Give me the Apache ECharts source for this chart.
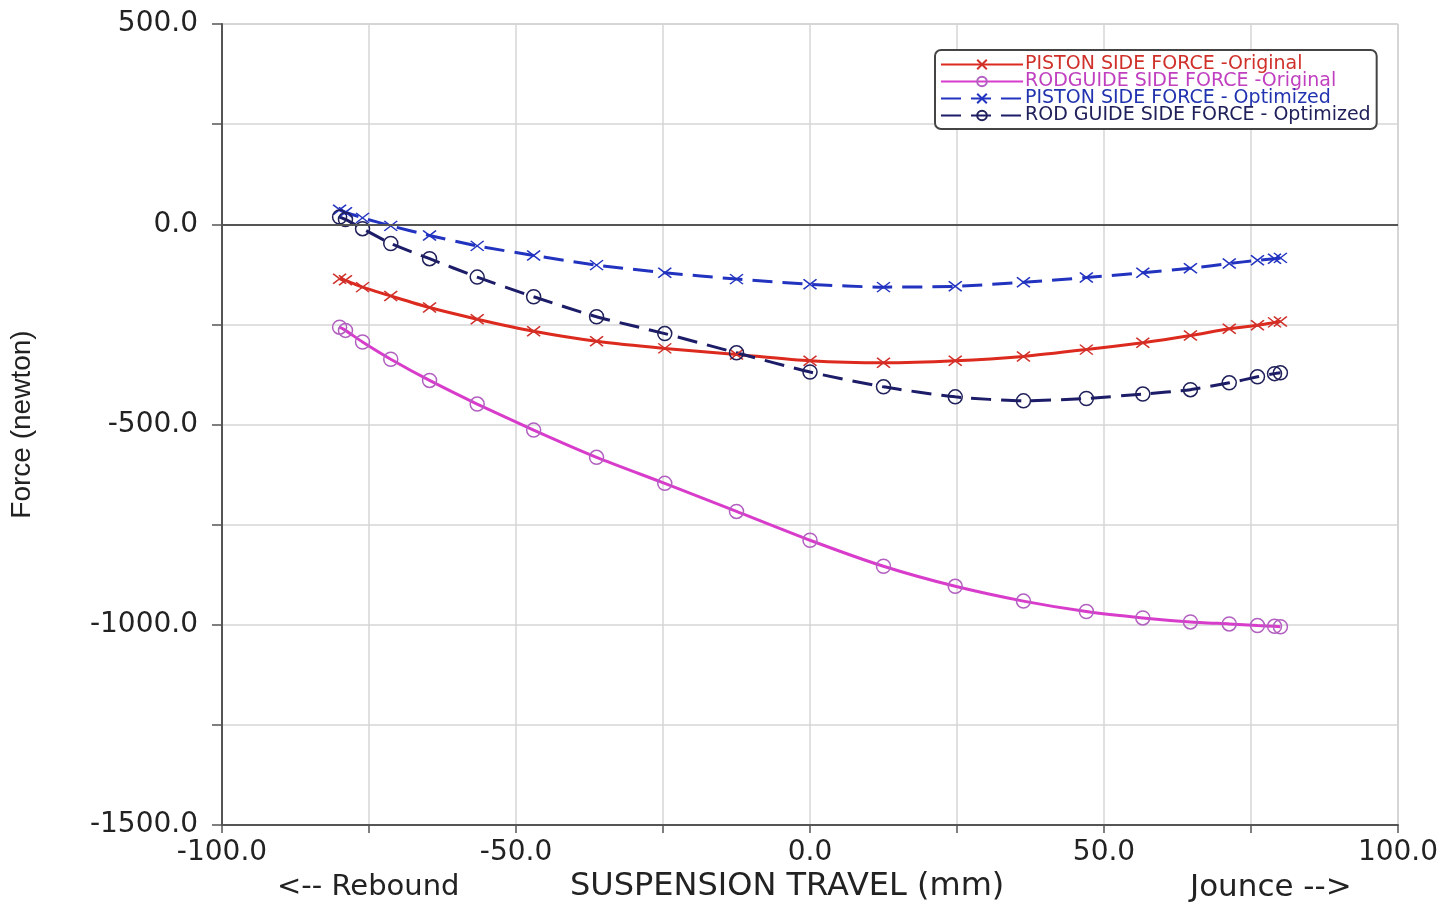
<!DOCTYPE html>
<html>
<head>
<meta charset="utf-8">
<title>Side force vs suspension travel</title>
<script src="https://cdn.jsdelivr.net/npm/echarts@6/dist/echarts.min.js"></script>
<style>
    html, body { margin: 0; padding: 0; background: #fff; }
    #chart { width: 1445px; height: 907px; }
</style>
</head>
<body>
<div id="chart"></div>
<script>
// suspension travel (mm), same for all four curves
var travel = [-80, -79.0, -76.1, -71.3, -64.7, -56.6, -47.0, -36.3, -24.7, -12.5, 0,
              12.5, 24.7, 36.3, 47.0, 56.6, 64.7, 71.3, 76.1, 79.0, 80];

// force (newton)
var pistonOrig = [-136, -140, -157, -179, -208, -237, -267, -292, -310, -325, -341,
                  -346, -341, -330, -313, -296, -278, -261, -252, -245, -243];
var rodguideOrig = [-257, -265, -294, -337, -390, -449, -514, -582, -647, -717, -789,
                    -854, -904, -941, -967, -983, -993, -998, -1002, -1004, -1005];
var pistonOpt = [36, 30, 16, -4, -28, -54, -78, -102, -121, -137, -150,
                 -157, -155, -145, -133, -121, -110, -98, -90, -86, -84];
var rodguideOpt = [18, 12, -11, -48, -86, -132, -181, -231, -273, -321, -369,
                   -406, -431, -441, -435, -424, -413, -396, -381, -373, -371];

var names = ['PISTON SIDE FORCE -Original', 'RODGUIDE SIDE FORCE -Original',
             'PISTON SIDE FORCE - Optimized', 'ROD GUIDE SIDE FORCE - Optimized'];

var xTicks = [-100, -50, 0, 50, 100];
var yTicks = [-1500, -1000, -500, 0, 500];

function pairs(vals) {
    var out = [];
    for (var i = 0; i < travel.length; i++) {
        out.push([travel[i], vals[i]]);
    }
    return out;
}

var crossMark = 'path://M0,0L12,9M12,0L0,9';

function curve(name, vals, color, mark, dashed, markColor) {
    return {
        name: name,
        type: 'line',
        data: pairs(vals),
        smooth: 0.2,
        symbol: mark === 'x' ? crossMark : 'circle',
        symbolSize: mark === 'x' ? [13, 10] : 14,
        symbolKeepAspect: false,
        itemStyle: {
            color: mark === 'x' ? markColor : 'rgba(0,0,0,0)',
            borderColor: markColor,
            borderWidth: 1.5
        },
        lineStyle: {
            color: color,
            width: 3,
            type: dashed ? [20, 10] : 'solid'
        },
        emphasis: { disabled: true }
    };
}

var chart = echarts.init(document.getElementById('chart'));

var series = [
    curve(names[0], pistonOrig, '#dc2a1e', 'x', false, '#d0302a'),
    curve(names[1], rodguideOrig, '#d83ccb', 'o', false, '#b260c0'),
    curve(names[2], pistonOpt, '#2233c0', 'x', true, '#2233c0'),
    curve(names[3], rodguideOpt, '#1c1c68', 'o', true, '#20205a')
];
// zero reference line
series[0].markLine = {
    silent: true,
    symbol: 'none',
    label: { show: false },
    lineStyle: { color: '#555', width: 2, type: 'solid' },
    data: [{ yAxis: 0 }]
};

var labelColors = ['#d0302a', '#c040c0', '#2233b0', '#20205a'];

chart.setOption({
    animation: false,
    backgroundColor: '#fff',
    grid: {
        left: 222, right: 47, top: 24, bottom: 82,
        show: true,
        borderColor: '#aaa',
        borderWidth: 1
    },
    legend: {
        orient: 'vertical',
        left: 935,
        top: 50,
        padding: [5, 6, 4, 5],
        itemWidth: 82,
        itemHeight: 12,
        itemGap: -2,
        borderColor: '#444',
        borderWidth: 2,
        borderRadius: 6,
        backgroundColor: '#fff',
        data: names.map(function (n, i) {
            return { name: n, textStyle: { color: labelColors[i] } };
        }),
        textStyle: { fontFamily: 'DejaVu Sans', fontSize: 19, padding: [0, 0, 0, -3] }
    },
    xAxis: {
        type: 'value',
        min: -100,
        max: 100,
        interval: 25,
        axisLine: { onZero: false, lineStyle: { color: '#555', width: 2 } },
        axisTick: { show: true, length: 8, lineStyle: { color: '#555', width: 1.5 } },
        splitLine: { show: true, lineStyle: { color: '#d6d6d6', width: 1.5 } },
        axisLabel: {
            margin: 14,
            color: '#222',
            fontFamily: 'DejaVu Sans',
            fontSize: 28,
            formatter: function (v) {
                return xTicks.indexOf(v) >= 0 ? v.toFixed(1) : '';
            }
        }
    },
    yAxis: {
        type: 'value',
        min: -1500,
        max: 500,
        interval: 250,
        name: 'Force (newton)',
        nameLocation: 'middle',
        nameGap: 186,
        nameRotate: 90,
        nameTextStyle: { fontFamily: 'Liberation Sans', fontSize: 28, color: '#222' },
        axisLine: { onZero: false, lineStyle: { color: '#555', width: 2 } },
        axisTick: { show: true, length: 10, lineStyle: { color: '#555', width: 1.5 } },
        splitLine: { show: true, lineStyle: { color: '#d6d6d6', width: 1.5 } },
        axisLabel: {
            margin: 24,
            color: '#222',
            fontFamily: 'DejaVu Sans',
            fontSize: 28,
            formatter: function (v) {
                return yTicks.indexOf(v) >= 0 ? v.toFixed(1) : '';
            }
        }
    },
    graphic: [
        { type: 'text', left: 277, top: 873, style: { text: '<-- Rebound', fontFamily: 'DejaVu Sans', fontSize: 29, fill: '#222' } },
        { type: 'text', left: 570, top: 871, style: { text: 'SUSPENSION TRAVEL (mm)', fontFamily: 'DejaVu Sans', fontSize: 32, fill: '#222' } },
        { type: 'text', left: 1190, top: 872, style: { text: 'Jounce -->', fontFamily: 'DejaVu Sans', fontSize: 31, fill: '#222' } }
    ],
    series: series
});
</script>
</body>
</html>
